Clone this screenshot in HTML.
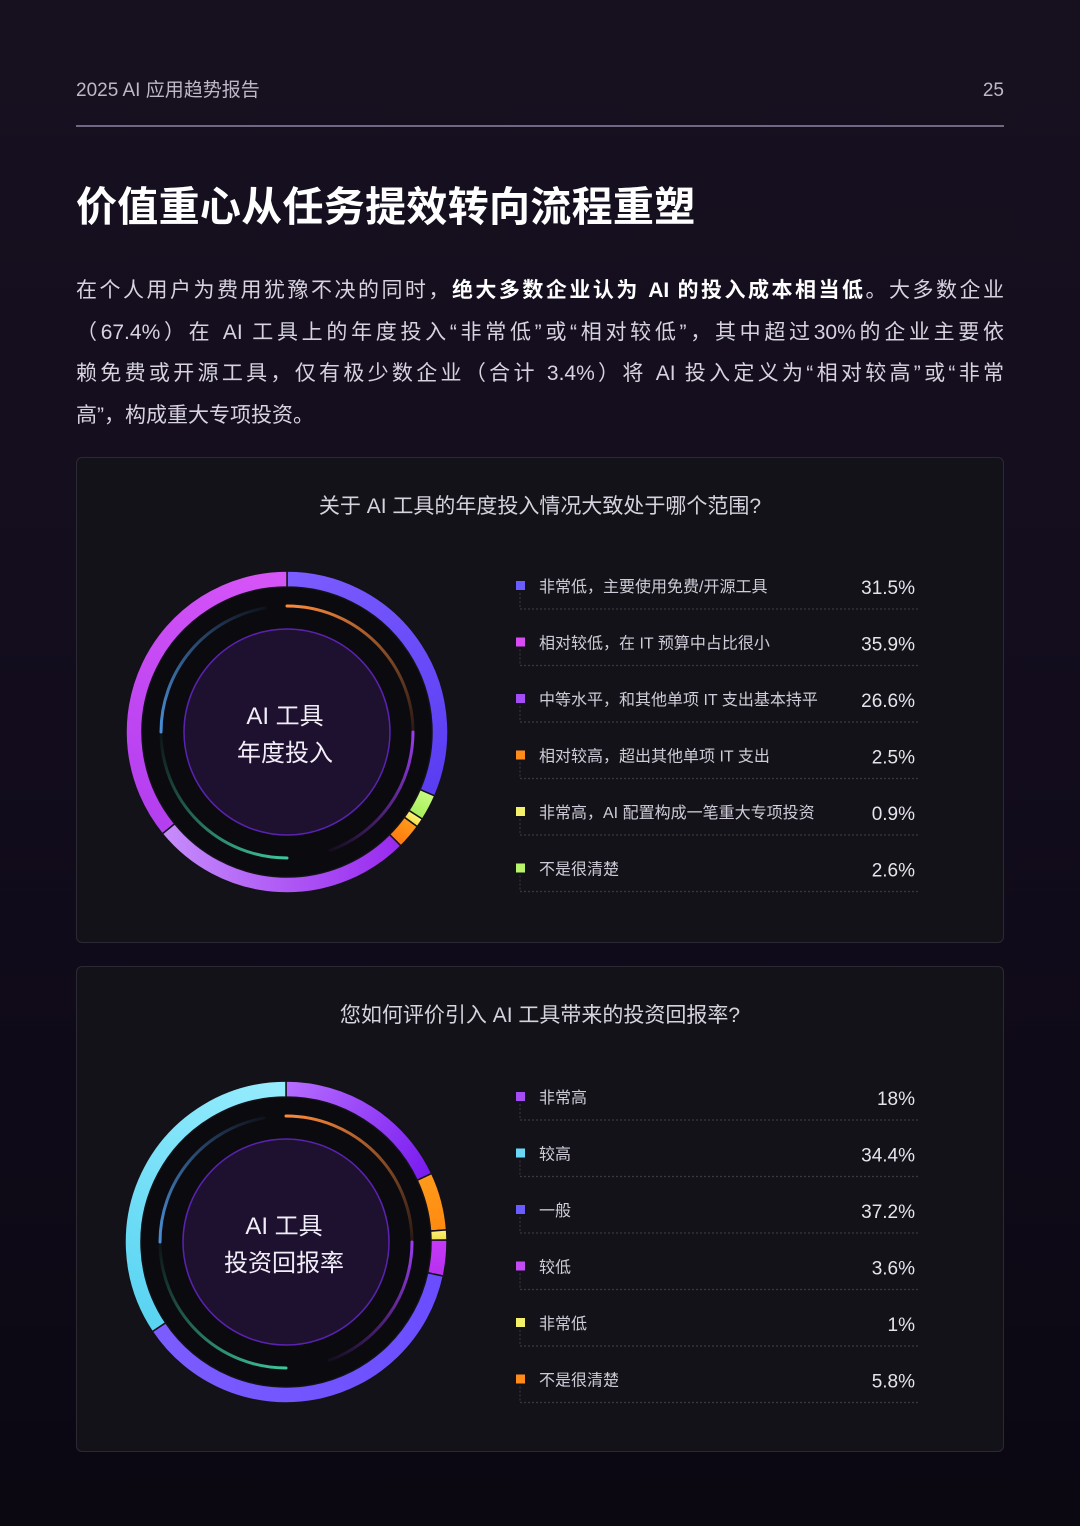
<!DOCTYPE html>
<html><head><meta charset="utf-8">
<style>
*{margin:0;padding:0;box-sizing:border-box}
body{width:1080px;height:1526px;overflow:hidden;background:linear-gradient(180deg,#16101f 0%,#130d1e 40%,#0f0a18 70%,#0b0812 100%);font-family:"Liberation Sans","Noto Sans CJK SC",sans-serif;color:#ddd;position:relative}
.abs{position:absolute}
.hdr{top:79px;font-size:19px;line-height:24px;color:#bdb8c8}
.rule{left:76px;top:125px;width:928px;height:2px;background:#6e6880}
h1{position:absolute;left:76px;top:181px;font-size:41px;line-height:52px;font-weight:bold;color:#fff;letter-spacing:0.3px}
.para{left:76px;top:270px;width:928px;font-size:21px;color:#d6d2de;line-height:41.7px}
.para div{text-align:justify;text-align-last:justify;white-space:nowrap}
.para div.last{text-align-last:left}
.para b{color:#fff}
.card{left:76px;width:928px;height:486px;border:1px solid #2c2934;border-radius:6px;background:#141219}
.ctitle{width:100%;text-align:center;top:32px;font-size:21px;color:#d6d2de}
</style></head><body>
<div class="abs hdr" style="left:76px">2025 AI 应用趋势报告</div>
<div class="abs hdr" style="right:76px">25</div>
<div class="abs rule"></div>
<h1>价值重心从任务提效转向流程重塑</h1>
<div class="abs para">
<div>在个人用户为费用犹豫不决的同时，<b>绝大多数企业认为 AI 的投入成本相当低</b>。大多数企业</div>
<div>（67.4%）在 AI 工具上的年度投入“非常低”或“相对较低”，其中超过30%的企业主要依</div>
<div>赖免费或开源工具，仅有极少数企业（合计 3.4%）将 AI 投入定义为“相对较高”或“非常</div>
<div class="last">高”，构成重大专项投资。</div>
</div>
<div class="abs card" style="top:457px">
<div class="abs ctitle">关于 AI 工具的年度投入情况大致处于哪个范围?</div>
</div>
<div class="abs card" style="top:966px">
<div class="abs ctitle">您如何评价引入 AI 工具带来的投资回报率?</div>
</div>
<svg id="chart" class="abs" style="left:0;top:0" width="1080" height="1526"></svg>
<script>
// Chart 1 data
const c1Labels = ["非常低，主要使用免费/开源工具","相对较低，在 IT 预算中占比很小","中等水平，和其他单项 IT 支出基本持平","相对较高，超出其他单项 IT 支出","非常高，AI 配置构成一笔重大专项投资","不是很清楚"];
const c1Values = [31.5,35.9,26.6,2.5,0.9,2.6];
const c1ValueText = ["31.5%","35.9%","26.6%","2.5%","0.9%","2.6%"];
const c1RingOrder = [0,5,4,3,2,1];
// Chart 2 data
const c2Labels = ["非常高","较高","一般","较低","非常低","不是很清楚"];
const c2Values = [18,34.4,37.2,3.6,1,5.8];
const c2ValueText = ["18%","34.4%","37.2%","3.6%","1%","5.8%"];
const c2RingOrder = [0,5,4,3,2,1];

const NS="http://www.w3.org/2000/svg";
const svg=document.getElementById('chart');
const defs=document.createElementNS(NS,'defs');svg.appendChild(defs);
let gid=0;
function mk(tag,attrs,parent){const e=document.createElementNS(NS,tag);for(const k in attrs)e.setAttribute(k,attrs[k]);(parent||svg).appendChild(e);return e;}
function pt(cx,cy,r,a){const t=(a-90)*Math.PI/180;return[cx+r*Math.cos(t),cy+r*Math.sin(t)];}
function arcPath(cx,cy,r0,r1,a0,a1){const l=(a1-a0)>180?1:0;const p0=pt(cx,cy,r1,a0),p1=pt(cx,cy,r1,a1),p2=pt(cx,cy,r0,a1),p3=pt(cx,cy,r0,a0);
return `M${p0[0]},${p0[1]}A${r1},${r1} 0 ${l} 1 ${p1[0]},${p1[1]}L${p2[0]},${p2[1]}A${r0},${r0} 0 ${l} 0 ${p3[0]},${p3[1]}Z`;}
function lineArc(cx,cy,r,a0,a1){const l=(a1-a0)>180?1:0;const p0=pt(cx,cy,r,a0),p1=pt(cx,cy,r,a1);return `M${p0[0]},${p0[1]}A${r},${r} 0 ${l} 1 ${p1[0]},${p1[1]}`;}
function grad(x1,y1,x2,y2,c1,c2,o1,o2){const id='g'+(gid++);const g=mk('linearGradient',{id,gradientUnits:'userSpaceOnUse',x1,y1,x2,y2},defs);
mk('stop',{offset:0,'stop-color':c1,'stop-opacity':o1==null?1:o1},g);mk('stop',{offset:1,'stop-color':c2,'stop-opacity':o2==null?1:o2},g);return `url(#${id})`;}

function donut(cx,cy,values,order,cols,title1,title2,name){
  const total=values.reduce((a,b)=>a+b,0);
  const band=mk('circle',{cx,cy,r:145,fill:'#0b0a0f'});
  
  
  let a=0;
  order.forEach(i=>{
    const sweep=values[i]/total*360;const a1=a+sweep;
    const p0=pt(cx,cy,153,a),p1=pt(cx,cy,153,a1);
    const fill=grad(p0[0],p0[1],p1[0],p1[1],cols[i][0],cols[i][1]);
    const s=mk('path',{d:arcPath(cx,cy,145,161,a,a1),fill,stroke:'#141219','stroke-width':1.5});
    
    
    a=a1;
  });
  const o1=mk('path',{d:lineArc(cx,cy,126,0,92),fill:'none','stroke-width':3,'stroke-linecap':'round',stroke:grad(cx,cy-126,cx+126,cy+20,'#ff8a3a','#ff8a3a',1,0.05)});
  
  const o2=mk('path',{d:lineArc(cx,cy,126,90,160),fill:'none','stroke-width':3,'stroke-linecap':'round',stroke:grad(cx+126,cy,cx+40,cy+120,'#9b3cf0','#9b3cf0',1,0.05)});
  
  const o3=mk('path',{d:lineArc(cx,cy,126,180,270),fill:'none','stroke-width':3,'stroke-linecap':'round',stroke:grad(cx-126,cy,cx,cy+126,'#3ec79a','#3ec79a',0.05,1)});
  
  const o4=mk('path',{d:lineArc(cx,cy,126,270,350),fill:'none','stroke-width':3,'stroke-linecap':'round',stroke:grad(cx-126,cy,cx-20,cy-126,'#4a8fd8','#4a8fd8',1,0.05)});
  
  const inner=mk('circle',{cx,cy,r:103,fill:'#1e1130',stroke:'#5a22b0','stroke-width':1.5});
  
  [title1,title2].forEach((t,k)=>{const tx=mk('text',{x:cx-2,y:cy-8+k*37,'text-anchor':'middle','font-size':24,fill:'#f2eef8'});tx.textContent=t;
    });
}
function legend(y0,labels,vals,sq,name){
  labels.forEach((lb,i)=>{const y=y0+i*56.5;
    const r=mk('rect',{x:516,y:y-5,width:9,height:9,fill:sq[i]});
    
    mk('line',{x1:520,y1:y+7,x2:520,y2:y+23,stroke:'#3a3744','stroke-width':1,'stroke-dasharray':'2 2'});
    const d=mk('line',{x1:520,y1:y+23,x2:920,y2:y+23,stroke:'#3a3744','stroke-width':1.2,'stroke-dasharray':'2 2'});
    
    const t=mk('text',{x:539,y:y+6,'font-size':16,fill:'#cfcbd8'});t.textContent=lb;
    
    const v=mk('text',{x:915,y:y+8,'font-size':19,fill:'#e6e2ee','text-anchor':'end'});v.textContent=vals[i];
    
  });
}
const c1Cols=[['#7b5cff','#5a3df2'],['#b43ff0','#d655f7'],['#9a2cf0','#c58bfa'],['#ff9a1a','#ff7a10'],['#fff27a','#f0e04a'],['#c8fa80','#a6ef5a']];
const c1Sq=['#6a5cff','#d94cf5','#a64cf5','#ff8c1a','#f5f06a','#b8f56a'];
const c2Cols=[['#b56cff','#7a1cf0'],['#5ad4f2','#95ecfd'],['#6a4dff','#7b5cff'],['#c53af5','#b830f0'],['#fff27a','#f0e04a'],['#ff9a1a','#ff8a10']];
const c2Sq=['#a64cf5','#6ad8f5','#6a5cff','#c54cf5','#f5f06a','#ff8c1a'];
donut(287,732,c1Values,c1RingOrder,c1Cols,'AI 工具','年度投入','chart1');
donut(286,1242,c2Values,c2RingOrder,c2Cols,'AI 工具','投资回报率','chart2');
legend(586,c1Labels,c1ValueText,c1Sq,'chart1');
legend(1097,c2Labels,c2ValueText,c2Sq,'chart2');
</script>
</body></html>
